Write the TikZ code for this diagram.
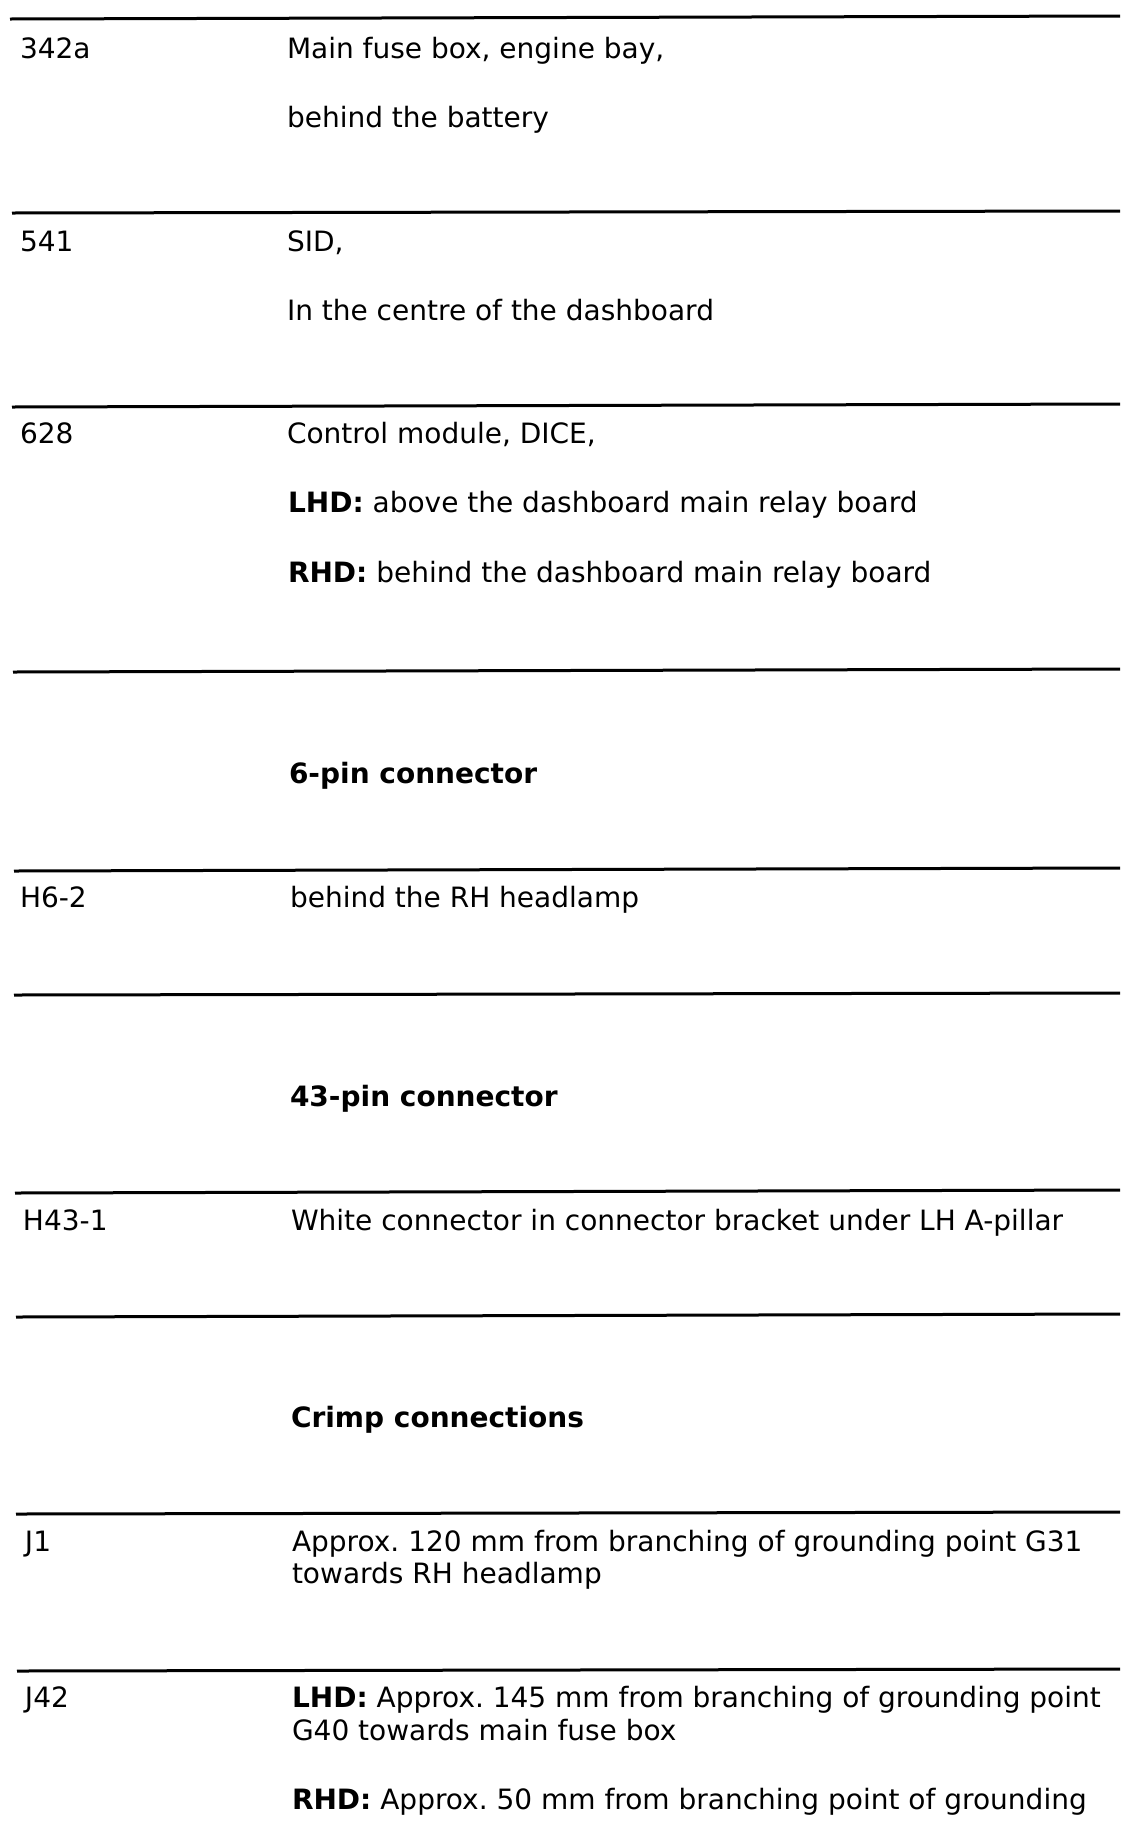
\documentclass[tikz,border=0pt]{standalone}
\usepackage{fontspec}
\setmainfont{DejaVu Sans}
\begin{document}
\frenchspacing
\begin{tikzpicture}[x=0.5pt,y=-0.5pt,
  rulel/.style={line width=1.5pt,black},
  txt/.style={anchor=base west,inner sep=0pt,outer sep=0pt,font=\fontsize{14pt}{15pt}\selectfont\frenchspacing},
  hd/.style={txt,font=\fontsize{14pt}{15pt}\selectfont\bfseries}]
\useasboundingbox[fill=white] (0,0) rectangle (1136,1832);
% rule coordinates
\coordinate (a1) at (10,19);   \coordinate (b1) at (1120,16);
\coordinate (a2) at (12,213);  \coordinate (b2) at (1120,211);
\coordinate (a3) at (12,407);  \coordinate (b3) at (1120,404);
\coordinate (a4) at (13,672);  \coordinate (b4) at (1120,669);
\coordinate (a5) at (14,871);  \coordinate (b5) at (1120,868);
\coordinate (a6) at (14,995);  \coordinate (b6) at (1120,993);
\coordinate (a7) at (15,1193); \coordinate (b7) at (1120,1190);
\coordinate (a8) at (16,1317); \coordinate (b8) at (1120,1314);
\coordinate (a9) at (16,1514); \coordinate (b9) at (1120,1512);
\coordinate (a10) at (17,1671); \coordinate (b10) at (1120,1669);
\foreach \i in {1,...,10} {\draw[rulel] (a\i) -- (b\i);}
% row 342a
\node[txt] (k1) at (20,58) {342a};
\node[txt] (t1a) at (287,58) {Main fuse box, engine bay,};
\node[txt] (t1b) at (287,127) {behind the battery};
% row 541
\node[txt] (k2) at (20,251) {541};
\node[txt] (t2a) at (287,251) {SID,};
\node[txt] (t2b) at (287,320) {In the centre of the dashboard};
% row 628
\node[txt] (k3) at (20,443) {628};
\node[txt] (t3a) at (287,443) {Control module, DICE,};
\node[txt] (t3b) at (288,512) {\textbf{LHD:} above the dashboard main relay board};
\node[txt] (t3c) at (288,582) {\textbf{RHD:} behind the dashboard main relay board};
% 6-pin
\node[hd] (h1) at (289,783) {6-pin connector};
\node[txt] (k4) at (20,907) {H6-2};
\node[txt] (t4a) at (290,907) {behind the RH headlamp};
% 43-pin
\node[hd] (h2) at (290,1106) {43-pin connector};
\node[txt] (k5) at (23,1230) {H43-1};
\node[txt] (t5a) at (291,1230) {White connector in connector bracket under LH A-pillar};
% crimp
\node[hd] (h3) at (291,1427) {Crimp connections};
\node[txt] (k6) at (25,1551) {J1};
\node[txt] (t6a) at (292,1551) {Approx. 120 mm from branching of grounding point G31};
\node[txt] (t6b) at (292,1583) {towards RH headlamp};
\node[txt] (k7) at (25,1707) {J42};
\node[txt] (t7a) at (292,1707) {\textbf{LHD:} Approx. 145 mm from branching of grounding point};
\node[txt] (t7b) at (292,1740) {G40 towards main fuse box};
\node[txt] (t7c) at (292,1809) {\textbf{RHD:} Approx. 50 mm from branching point of grounding};
\end{tikzpicture}
\end{document}
